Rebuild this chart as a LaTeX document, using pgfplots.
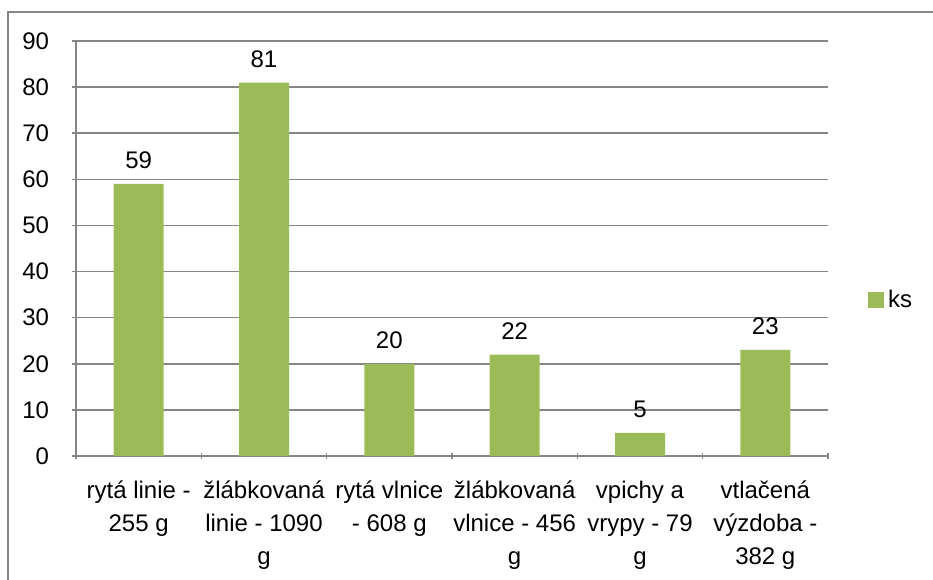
\documentclass[border=0pt]{standalone}
\usepackage{fontspec}
\setmainfont{Liberation Sans}
\usepackage{pgfplots}
\pgfplotsset{compat=1.18}
\definecolor{barGreen}{HTML}{9BBB59}
\definecolor{axGray}{HTML}{868686}
\begin{document}
\begin{tikzpicture}
  % page = 933 x 580 px, 1 px = 0.5 bp
  \useasboundingbox (0bp,0bp) rectangle (466.5bp,290bp);
  \draw[axGray, line width=1.2bp] (4bp,0bp) -- (4bp,284bp) -- (466.5bp,284bp);
  \begin{axis}[
      at={(38bp,62bp)}, anchor=south west,
      scale only axis,
      width=376bp, height=207.5bp,
      xmin=0, xmax=6,
      ymin=0, ymax=90,
      ytick={0,10,...,90},
      xtick={0.5,1.5,...,5.5},
      xticklabels={
        {rytá linie -\\255 g},
        {žlábkovaná\\linie - 1090\\g},
        {rytá vlnice\\- 608 g},
        {žlábkovaná\\vlnice - 456\\g},
        {vpichy a\\vrypy - 79\\g},
        {vtlačená\\výzdoba -\\382 g}},
      minor xtick={0,1,...,6},
      major x tick style={draw=none},
      minor tick length=3bp,
      major tick length=4bp,
      tick align=outside,
      xtick pos=bottom, ytick pos=left,
      axis x line=bottom, axis y line=left,
      axis line style={-, axGray, line width=0.8bp},
      tick style={axGray, line width=0.8bp},
      ymajorgrids,
      grid style={axGray, line width=0.8bp},
      font=\fontsize{12bp}{15.5bp}\selectfont,
      /pgf/number format/assume math mode=true,
      xticklabel style={align=center, yshift=-7bp, font=\fontsize{12bp}{16.5bp}\selectfont},
      yticklabel style={anchor=east},
      yticklabel shift=8bp,
      legend style={at={(rel axis cs:1.045,0.376)}, anchor=west, draw=none, fill=none,
        font=\fontsize{12bp}{14bp}\selectfont},
      legend image code/.code={\fill[barGreen] (0bp,-4bp) rectangle (8bp,4bp);},
      nodes near coords,
      every node near coord/.append style={font=\fontsize{12bp}{14bp}\selectfont, yshift=4bp},
    ]
    \addplot[ybar, bar width=25bp, fill=barGreen, draw=none] coordinates {
      (0.5,59) (1.5,81) (2.5,20) (3.5,22) (4.5,5) (5.5,23)
    };
    \addlegendentry{ks}
  \end{axis}
\end{tikzpicture}
\end{document}
